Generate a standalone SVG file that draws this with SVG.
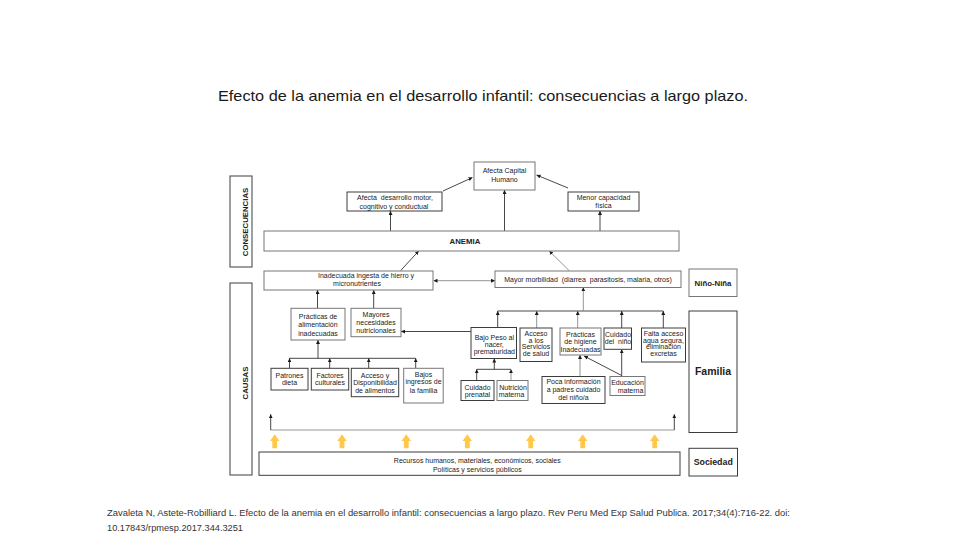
<svg xmlns="http://www.w3.org/2000/svg" width="960" height="540" viewBox="0 0 960 540">
<defs>
<style>
.box{fill:#fff;stroke:#3c3c3c;stroke-width:1}
.gbox{fill:#fff;stroke:#777;stroke-width:1}
.t{font-family:"Liberation Sans",Arial,sans-serif;font-size:7px;fill:#222;text-anchor:middle}
.b{font-weight:bold}
.c{stroke:#333;stroke-width:0.9;fill:none}
.g{stroke:#8a8a8a;stroke-width:0.9;fill:none}
.ya{fill:#FFC84A}
.pre{white-space:pre}
</style>
<marker id="ah" viewBox="0 0 6 6" refX="6" refY="3" markerWidth="4" markerHeight="4" markerUnits="userSpaceOnUse" orient="auto-start-reverse"><path d="M0,0 L6,3 L0,6 z" fill="#1a1a1a"/></marker>
<path id="yarrow" d="M0,0 L4.7,6.7 L2.4,6.7 L2.4,14 L-2.4,14 L-2.4,6.7 L-4.7,6.7 Z"/>
</defs>
<rect width="960" height="540" fill="#fff"/>
<text x="483" y="101" font-family="Liberation Sans, Arial, sans-serif" font-size="14.5" fill="#1a1a1a" text-anchor="middle" textLength="530" lengthAdjust="spacingAndGlyphs">Efecto de la anemia en el desarrollo infantil: consecuencias a largo plazo.</text>

<g id="connectors">
<line class="c" x1="443" y1="191" x2="472.5" y2="177.5" marker-end="url(#ah)"/>
<line class="c" x1="568" y1="188" x2="536.5" y2="175" marker-end="url(#ah)"/>
<line class="c" x1="504.5" y1="231" x2="504.5" y2="190" marker-end="url(#ah)"/>
<line class="c" x1="390.5" y1="231" x2="390.5" y2="211" marker-end="url(#ah)"/>
<line class="c" x1="600" y1="231" x2="600" y2="211" marker-end="url(#ah)"/>
<line class="c" x1="400.7" y1="270.5" x2="418.7" y2="251" marker-end="url(#ah)"/>
<line class="g" x1="569.5" y1="271" x2="549.3" y2="251" marker-end="url(#ah)"/>
<line class="g" x1="433.5" y1="280.7" x2="495" y2="280.7" marker-start="url(#ah)" marker-end="url(#ah)"/>
<line class="c" x1="317.5" y1="308" x2="317.5" y2="290" marker-end="url(#ah)"/>
<line class="c" x1="373.7" y1="308" x2="373.7" y2="290" marker-end="url(#ah)"/>
<line class="c" x1="289" y1="358.3" x2="415.7" y2="358.3"/>
<line class="c" x1="318" y1="358.3" x2="318" y2="340" marker-end="url(#ah)"/>
<line class="c" x1="289.5" y1="368" x2="289.5" y2="358.3" marker-end="url(#ah)"/>
<line class="c" x1="329.7" y1="368" x2="329.7" y2="358.3" marker-end="url(#ah)"/>
<line class="c" x1="368.7" y1="368" x2="368.7" y2="358.3" marker-end="url(#ah)"/>
<line class="c" x1="415.7" y1="368" x2="415.7" y2="358.3" marker-end="url(#ah)"/>
<line class="c" x1="471" y1="331.5" x2="401" y2="331.5" marker-end="url(#ah)"/>
<line class="c" x1="497.7" y1="311" x2="663.3" y2="311"/>
<line class="g" x1="583.3" y1="311" x2="583.3" y2="287.3" marker-end="url(#ah)"/>
<line class="c" x1="497.7" y1="327.5" x2="497.7" y2="311" marker-end="url(#ah)"/>
<line class="g" x1="536.7" y1="328" x2="536.7" y2="311" marker-end="url(#ah)"/>
<line class="g" x1="577.7" y1="328" x2="577.7" y2="311" marker-end="url(#ah)"/>
<line class="c" x1="621.7" y1="328" x2="621.7" y2="311" marker-end="url(#ah)"/>
<line class="c" x1="663.3" y1="328" x2="663.3" y2="311" marker-end="url(#ah)"/>
<line class="c" x1="476.7" y1="369.3" x2="511" y2="369.3"/>
<line class="c" x1="494.3" y1="369.3" x2="494.3" y2="358.5" marker-end="url(#ah)"/>
<line class="c" x1="476.7" y1="380.5" x2="476.7" y2="369.3" marker-end="url(#ah)"/>
<line class="g" x1="511" y1="380.5" x2="511" y2="369.3" marker-end="url(#ah)"/>
<line class="g" x1="580" y1="376.5" x2="580" y2="355" marker-end="url(#ah)"/>
<line class="c" x1="621.7" y1="376.5" x2="621.7" y2="349.3" marker-end="url(#ah)"/>
<line class="c" x1="621.7" y1="375.5" x2="584" y2="356" marker-end="url(#ah)"/>
<path class="g" d="M270.7,430 H674.3"/>
<line class="c" x1="270.7" y1="430" x2="270.7" y2="414.3" marker-end="url(#ah)"/>
<line class="c" x1="674.3" y1="430" x2="674.3" y2="414.3" marker-end="url(#ah)"/>
<use href="#yarrow" class="ya" x="274.7" y="434.3"/>
<use href="#yarrow" class="ya" x="342" y="434.3"/>
<use href="#yarrow" class="ya" x="406.3" y="434.3"/>
<use href="#yarrow" class="ya" x="467.3" y="434.3"/>
<use href="#yarrow" class="ya" x="530.7" y="434.3"/>
<use href="#yarrow" class="ya" x="582.7" y="434.3"/>
<use href="#yarrow" class="ya" x="654.7" y="434.3"/>
</g>

<g id="consecuencias">
<rect class="box" x="230" y="176" width="22" height="91"/>
<text class="t b" style="font-size:7.8px" transform="translate(247.5,222) rotate(-90)">CONSECUENCIAS</text>
</g>
<g id="causas">
<rect class="box" x="230" y="283" width="22" height="192"/>
<text class="t b" style="font-size:7.8px" transform="translate(247.5,383) rotate(-90)">CAUSAS</text>
</g>
<g id="capital-humano">
<rect class="gbox" x="474" y="162" width="61" height="28"/>
<text class="t" x="504.5" y="172.5">Afecta Capital</text>
<text class="t" x="504.5" y="181.5">Humano</text>
</g>
<g id="desarrollo">
<rect class="box" x="347" y="192" width="95" height="19"/>
<text class="t pre" x="395" y="200">Afecta  desarrollo motor,</text>
<text class="t" x="394" y="208.5">cognitivo y conductual</text>
</g>
<g id="capacidad">
<rect class="box" x="568" y="192" width="71" height="19"/>
<text class="t" x="603.5" y="199.5">Menor capacidad</text>
<text class="t" x="603.5" y="207.5">física</text>
</g>
<g id="anemia">
<rect class="gbox" x="264" y="231" width="415" height="20"/>
<text class="t b" style="font-size:7.8px" x="465" y="244.3">ANEMIA</text>
</g>
<g id="ingesta">
<rect class="gbox" x="264" y="271" width="169" height="19"/>
<text class="t" x="366" y="278">Inadecuada ingesta de hierro y</text>
<text class="t" x="357" y="285.7">micronutrientes</text>
</g>
<g id="morbilidad">
<rect class="gbox" x="495" y="271" width="186" height="16.5"/>
<text class="t pre" x="588" y="281.5">Mayor morbilidad  (diarrea  parasitosis, malaria, otros)</text>
</g>
<g id="nino-nina">
<rect class="gbox" x="689" y="269" width="48" height="27.5"/>
<text class="t b" style="font-size:7.8px" x="713" y="286">Niño-Niña</text>
</g>
<g id="familia">
<rect class="box" x="689" y="311" width="48" height="121.5"/>
<text class="t b" style="font-size:10.5px" x="713" y="375">Familia</text>
</g>
<g id="sociedad">
<rect class="box" x="689" y="448.3" width="48.5" height="27.7"/>
<text class="t b" style="font-size:8.8px" x="713.2" y="465">Sociedad</text>
</g>
<g id="recursos">
<rect class="box" x="259" y="452" width="421" height="23.3"/>
<text class="t" x="477.3" y="462.5">Recursos humanos, materiales, económicos, sociales</text>
<text class="t" x="477.3" y="471.5">Políticas y servicios públicos</text>
</g>
<g id="practicas-alimentacion">
<rect class="gbox" x="291" y="308.3" width="54" height="31.7"/>
<text class="t" x="318" y="318.5">Prácticas de</text>
<text class="t" x="318" y="327">alimentación</text>
<text class="t" x="318" y="335.5">inadecuadas</text>
</g>
<g id="necesidades">
<rect class="gbox" x="351" y="308.3" width="50" height="28.4"/>
<text class="t" x="376" y="316.5">Mayores</text>
<text class="t" x="376" y="324.8">necesidades</text>
<text class="t" x="376" y="332.5">nutricionales</text>
</g>
<g id="patrones">
<rect class="box" x="271" y="368.3" width="37" height="21.7"/>
<text class="t" x="289.5" y="377.5">Patrones</text>
<text class="t" x="289.5" y="385">dieta</text>
</g>
<g id="factores">
<rect class="box" x="311.3" y="368.3" width="37.4" height="21.7"/>
<text class="t" x="330" y="377.5">Factores</text>
<text class="t" x="330" y="385">culturales</text>
</g>
<g id="acceso-alimentos">
<rect class="box" x="351.3" y="368.3" width="47.4" height="28.4"/>
<text class="t" x="375" y="377.5">Acceso y</text>
<text class="t" x="375" y="385">Disponibilidad</text>
<text class="t" x="375" y="392.8">de alimentos</text>
</g>
<g id="ingresos">
<rect class="gbox" x="403.7" y="368.3" width="39.5" height="34.7"/>
<text class="t" x="423.5" y="376.5">Bajos</text>
<text class="t" x="423.5" y="384">ingresos de</text>
<text class="t" x="423.5" y="392.5">la familia</text>
</g>
<g id="bajo-peso">
<rect class="box" x="471" y="327.5" width="45.5" height="31"/>
<text class="t" x="494.3" y="339.5">Bajo Peso al</text>
<text class="t" x="494.3" y="346.5">nacer,</text>
<text class="t" x="494.3" y="353.5">prematuridad</text>
</g>
<g id="servicios-salud">
<rect class="box" x="520" y="328" width="32" height="33.5"/>
<text class="t" x="536" y="335.8">Acceso</text>
<text class="t" x="536" y="342.5">a los</text>
<text class="t" x="536" y="349.2">Servicios</text>
<text class="t" x="536" y="355.8">de salud</text>
</g>
<g id="higiene">
<rect class="gbox" x="560" y="328" width="41" height="27"/>
<text class="t" x="580.5" y="336.5">Prácticas</text>
<text class="t" x="580.5" y="344">de higiene</text>
<text class="t" x="580.5" y="351.7">Inadecuadas</text>
</g>
<g id="cuidado-nino">
<rect class="box" x="604" y="328" width="27.5" height="21.3"/>
<text class="t" x="618" y="336.5">Cuidado</text>
<text class="t pre" x="618" y="344">del  niño</text>
</g>
<g id="agua">
<rect class="box" x="641.5" y="328" width="44" height="34"/>
<text class="t" x="663.5" y="336.3">Falta acceso</text>
<text class="t" x="663.5" y="343">agua segura,</text>
<text class="t" x="663.5" y="349.2">eliminación</text>
<text class="t" x="663.5" y="355.8">excretas</text>
</g>
<g id="prenatal">
<rect class="box" x="461" y="380.5" width="33" height="20"/>
<text class="t" x="477.5" y="389.7">Cuidado</text>
<text class="t" x="477.5" y="397.3">prenatal</text>
</g>
<g id="nutricion">
<rect class="gbox" x="497" y="380.5" width="31" height="20"/>
<text class="t" x="513" y="389.7">Nutrición</text>
<text class="t" x="511.5" y="397.3">materna</text>
</g>
<g id="poca-informacion">
<rect class="box" x="542" y="376.5" width="63" height="27"/>
<text class="t" x="573.5" y="384">Poca información</text>
<text class="t" x="573.5" y="391.7">a padres cuidado</text>
<text class="t" x="573.5" y="399.7">del niño/a</text>
</g>
<g id="educacion">
<rect class="gbox" x="610" y="376.5" width="35" height="19"/>
<text class="t" x="627.5" y="384.7">Educación</text>
<text class="t" x="630.5" y="393">materna</text>
</g>

<text x="107" y="516" font-family="Liberation Sans, Arial, sans-serif" font-size="8.5" fill="#333" textLength="683" lengthAdjust="spacingAndGlyphs">Zavaleta N, Astete-Robilliard L. Efecto de la anemia en el desarrollo infantil: consecuencias a largo plazo. Rev Peru Med Exp Salud Publica. 2017;34(4):716-22. doi:</text>
<text x="107" y="531" font-family="Liberation Sans, Arial, sans-serif" font-size="8.5" fill="#333" textLength="136" lengthAdjust="spacingAndGlyphs">10.17843/rpmesp.2017.344.3251</text>
</svg>
